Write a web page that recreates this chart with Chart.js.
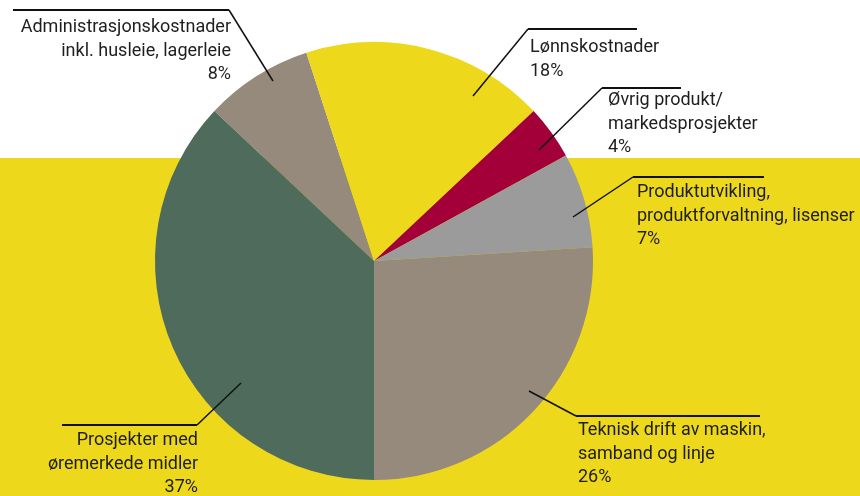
<!DOCTYPE html>
<html>
<head>
<meta charset="utf-8">
<script src="https://cdn.jsdelivr.net/npm/chart.js@4.4.1/dist/chart.umd.min.js"></script>
<style>
  html, body { margin: 0; padding: 0; background: #ffffff; }
  #wrap { width: 860px; height: 496px; position: relative; }
</style>
</head>
<body>
<div id="wrap"><canvas id="c" width="860" height="496"></canvas></div>
<script>
// ---- Data ----
const categories = [
  ["Administrasjonskostnader", "inkl. husleie, lagerleie"],
  ["Lønnskostnader"],
  ["Øvrig produkt/", "markedsprosjekter"],
  ["Produktutvikling,", "produktforvaltning, lisenser"],
  ["Teknisk drift av maskin,", "samband og linje"],
  ["Prosjekter med", "øremerkede midler"]
];
const shares = [8, 18, 4, 7, 26, 37];
const sliceColors = ["#958a7b", "#edd81c", "#a3003a", "#9b9b9b", "#958a7b", "#4e6b5b"];

// ---- Label layout (leader lines & text anchors) ----
const labelLayout = [
  { line: [[273, 81], [229, 10], [13, 10]],   align: "right", x: 231, y: 32 },
  { line: [[473, 96], [528, 29], [637, 29]],  align: "left",  x: 530, y: 52 },
  { line: [[539, 150], [602, 88], [681, 88]], align: "left",  x: 608, y: 105 },
  { line: [[573, 217], [633, 177], [764, 177]], align: "left", x: 637, y: 197 },
  { line: [[529, 391], [576, 416], [760, 416]], align: "left", x: 578, y: 435 },
  { line: [[241, 383], [197, 425], [62, 425]], align: "right", x: 198, y: 445 }
];
const lineHeight = 23.5;
const FONT = '18px "Roboto", "Liberation Sans", sans-serif';
const TEXT_COLOR = "#1e1e1e";

const bgPlugin = {
  id: "bg",
  beforeDraw(chart) {
    const ctx = chart.ctx;
    ctx.save();
    ctx.fillStyle = "#ffffff";
    ctx.fillRect(0, 0, chart.width, chart.height);
    ctx.fillStyle = "#edd81c";
    ctx.fillRect(0, 158, chart.width, chart.height - 158);
    ctx.restore();
  }
};

const labelPlugin = {
  id: "labels",
  afterDraw(chart) {
    const ctx = chart.ctx;
    const data = chart.data.datasets[0].data;
    ctx.save();
    labelLayout.forEach((L, i) => {
      // leader line
      ctx.strokeStyle = "#111111";
      ctx.lineWidth = 1.5;
      ctx.beginPath();
      ctx.moveTo(L.line[0][0], L.line[0][1]);
      ctx.lineTo(L.line[1][0], L.line[1][1]);
      ctx.stroke();
      ctx.lineWidth = 2;
      ctx.beginPath();
      ctx.moveTo(L.line[1][0], L.line[1][1]);
      ctx.lineTo(L.line[2][0], L.line[2][1]);
      ctx.stroke();
      // text
      ctx.font = FONT;
      ctx.fillStyle = TEXT_COLOR;
      ctx.textAlign = L.align;
      ctx.textBaseline = "alphabetic";
      const lines = chart.data.labels[i].concat([data[i] + "%"]);
      lines.forEach((t, k) => ctx.fillText(t, L.x, L.y + k * lineHeight));
    });
    ctx.restore();
  }
};

new Chart(document.getElementById("c"), {
  type: "pie",
  data: {
    labels: categories,
    datasets: [{
      data: shares,
      backgroundColor: sliceColors,
      borderWidth: 0
    }]
  },
  options: {
    responsive: false,
    animation: false,
    rotation: 313.2,
    layout: { padding: { top: 42, bottom: 16, left: 155, right: 267 } },
    plugins: { legend: { display: false }, tooltip: { enabled: false } }
  },
  plugins: [bgPlugin, labelPlugin]
});
</script>
</body>
</html>
